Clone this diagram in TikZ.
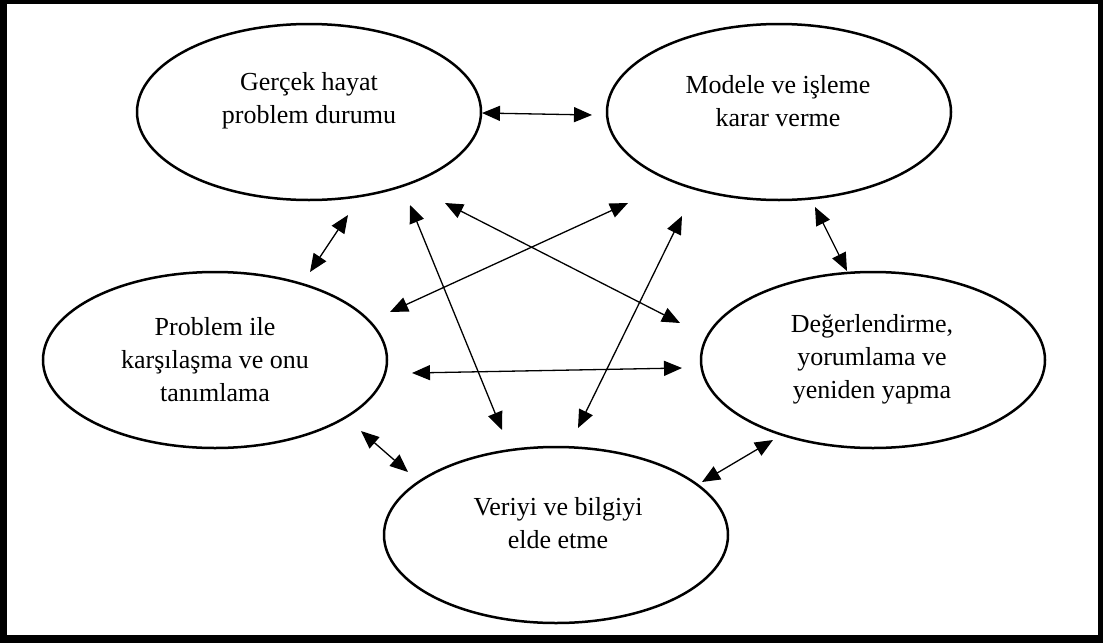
\documentclass[tikz,border=0pt]{standalone}
\usepackage{fontspec}
\setmainfont{Liberation Serif}
\usetikzlibrary{shapes.geometric,arrows.meta,calc}

\tikzset{
  stage/.style={ellipse, draw=black, line width=2.5pt, minimum width=344pt,
    minimum height=176pt, inner sep=0pt},
  stagetext/.style={align=center, font=\fontsize{26}{33}\selectfont, inner sep=0pt},
  link/.style={line width=1.3pt, {Triangle[length=18pt,width=15pt]}-{Triangle[length=18pt,width=15pt]}}
}

\begin{document}
\begin{tikzpicture}[x=1pt,y=-1pt]
  \useasboundingbox (0,0) rectangle (1103,643);
  % frame
  \fill[black] (0,0) rectangle (1103,643);
  \fill[white] (7,4) rectangle (1098,635);

  % stages of the cycle
  \node[stage] (tl) at (309,112) {};
  \node[stage] (tr) at (779,112) {};
  \node[stage] (lf) at (215,360) {};
  \node[stage] (rt) at (873,360) {};
  \node[stage] (bt) at (556,535) {};

  \node[stagetext] (tlt) at (309,101) {Gerçek hayat\\problem durumu};
  \node[stagetext] (trt) at (778,101) {Modele ve işleme\\karar verme};
  \node[stagetext] (lft) at (215,360) {Problem ile\\karşılaşma ve onu\\tanımlama};
  \node[stagetext] (rtt) at (872,359) {Değerlendirme,\\yorumlama ve\\yeniden yapma};
  \node[stagetext] (btt) at (558,523) {Veriyi ve bilgiyi\\elde etme};

  % connector end points beside each stage
  \coordinate (a1s) at ($(tl)+(173,1)$);   \coordinate (a1e) at ($(tr)+(-187,3)$);
  \coordinate (a2s) at ($(tl)+(39,103)$);  \coordinate (a2e) at ($(lf)+(95,-88)$);
  \coordinate (a3s) at ($(tl)+(101,93)$);  \coordinate (a3e) at ($(bt)+(-54,-105)$);
  \coordinate (a4s) at ($(tl)+(136,91)$);  \coordinate (a4e) at ($(rt)+(-193,-37)$);
  \coordinate (a5s) at ($(tr)+(-151,91)$); \coordinate (a5e) at ($(lf)+(175,-48)$);
  \coordinate (a6s) at ($(tr)+(-97,104)$); \coordinate (a6e) at ($(bt)+(22,-107)$);
  \coordinate (a7s) at ($(lf)+(197,13)$);  \coordinate (a7e) at ($(rt)+(-191,8)$);
  \coordinate (a8s) at ($(tr)+(36,95)$);   \coordinate (a8e) at ($(rt)+(-26,-89)$);
  \coordinate (a9s) at ($(lf)+(146,71)$);  \coordinate (a9e) at ($(bt)+(-148,-63)$);
  \coordinate (a10s) at ($(rt)+(-100,80)$); \coordinate (a10e) at ($(bt)+(146,-53)$);

  % two-way links
  \draw[link] (a1s) -- (a1e);
  \draw[link] (a2s) -- (a2e);
  \draw[link] (a3s) -- (a3e);
  \draw[link] (a4s) -- (a4e);
  \draw[link] (a5s) -- (a5e);
  \draw[link] (a6s) -- (a6e);
  \draw[link] (a7s) -- (a7e);
  \draw[link] (a8s) -- (a8e);
  \draw[link] (a9s) -- (a9e);
  \draw[link] (a10s) -- (a10e);
\end{tikzpicture}
\end{document}
